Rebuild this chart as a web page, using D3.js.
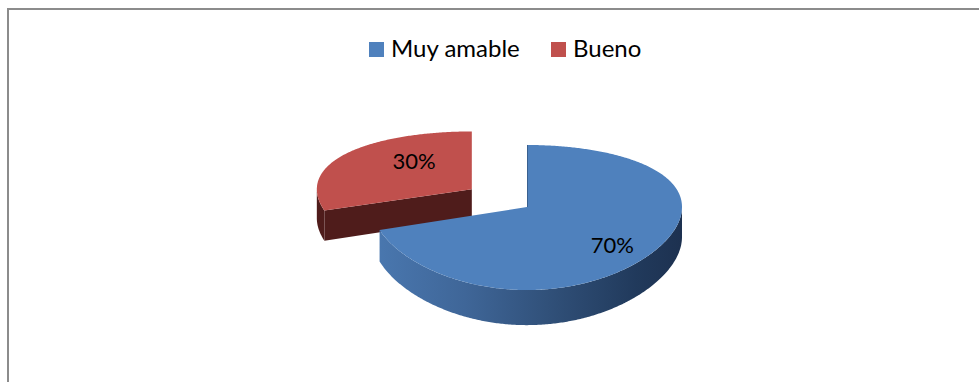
<!DOCTYPE html>
<html>
<head>
<meta charset="utf-8">
<script src="https://cdn.jsdelivr.net/npm/d3@7/dist/d3.min.js"></script>
<style>
  html, body { margin: 0; padding: 0; background: #fff; }
  svg { display: block; }
</style>
</head>
<body>
<svg id="chart" width="979" height="382"></svg>
<script>
// Survey answers and their shares
const categories = ["Muy amable", "Bueno"];
const values = [70, 30];
const topColors = ["#4F81BD", "#C0504D"];
const sideColors = ["#34567f", "#4F1C1B"];

const svg = d3.select("#chart");

// Chart frame
svg.append("rect")
  .attr("x", 8).attr("y", 9)
  .attr("width", 1000).attr("height", 400)
  .attr("fill", "none").attr("stroke", "#8c8c8c").attr("stroke-width", 2);

// 3D pie projection: disc radius R, foreshortened depth A, perspective B, wall height T
const cx = 527, cy = 207, R = 155, A = 71, B = 0.145, T = 30;
const explodeFrac = [0, 0.44];

function project(X, Z, h) {
  const s = 1 / (1 + B * Z);
  return [cx + R * X, cy - A * Z * s + T * s * h];
}

const pie = d3.pie().sort(null).startAngle(0).endAngle(2 * Math.PI);
const arcs = pie(values);
const total = d3.sum(values);
const pct = d3.format(".0%");

function offset(i) {
  const a = arcs[i];
  const mid = (a.startAngle + a.endAngle) / 2;
  const e = explodeFrac[i];
  return [e * Math.sin(mid), e * Math.cos(mid)];
}

function ringPoints(i, a0, a1, rho, h) {
  const [ex, ez] = offset(i);
  const n = Math.max(2, Math.ceil((a1 - a0) / 0.01));
  return d3.range(n + 1).map(k => {
    const t = a0 + (a1 - a0) * k / n;
    return project(ex + rho * Math.sin(t), ez + rho * Math.cos(t), h);
  });
}

const line = d3.line();

// Gradient on the front wall of the large slice
const defs = svg.append("defs");
const grad = defs.append("linearGradient")
  .attr("id", "wallBlue").attr("gradientUnits", "userSpaceOnUse")
  .attr("x1", cx - R).attr("x2", cx + R).attr("y1", 0).attr("y2", 0);
[[0, "#4a78b0"], [0.3, "#3f6698"], [0.6, "#2f4e76"], [0.85, "#213a5c"], [1, "#1d3150"]]
  .forEach(([o, c]) => grad.append("stop").attr("offset", o).attr("stop-color", c));

const wallFill = ["url(#wallBlue)", sideColors[1]];

function drawSlice(i) {
  const a = arcs[i];
  const g = svg.append("g").attr("class", "slice slice-" + i);
  const [ex, ez] = offset(i);
  const a0 = a.startAngle, a1 = a.endAngle;

  // radial walls that face the viewer
  const faces = [];
  if (Math.cos(a0 - Math.PI / 2) < -0.05) faces.push(a0);
  if (Math.cos(a1 + Math.PI / 2) < -0.05) faces.push(a1);
  faces.forEach(t => {
    const c0 = project(ex, ez, 0), c1 = project(ex, ez, 1);
    const o0 = project(ex + Math.sin(t), ez + Math.cos(t), 0);
    const o1 = project(ex + Math.sin(t), ez + Math.cos(t), 1);
    g.append("path").attr("d", line([c0, o0, o1, c1]) + "Z")
      .attr("fill", sideColors[i]);
  });

  // outer curved wall, front half only
  const f0 = Math.max(a0, Math.PI / 2), f1 = Math.min(a1, 3 * Math.PI / 2);
  if (f1 > f0) {
    const topPts = ringPoints(i, f0, f1, 1, 0);
    const botPts = ringPoints(i, f0, f1, 1, 1).reverse();
    g.append("path").attr("d", line(topPts.concat(botPts)) + "Z")
      .attr("fill", wallFill[i]);
  }

  // top face
  const pts = [project(ex, ez, 0)].concat(ringPoints(i, a0, a1, 1, 0));
  g.append("path").attr("d", line(pts) + "Z").attr("fill", topColors[i]);
}

// back slice first, then the front one
drawSlice(1);
drawSlice(0);

// thin shaded seam along the vertical edge of the large slice
(function () {
  const p0 = project(0, 0, 0), p1 = project(0, 1, 0);
  svg.append("line").attr("x1", p0[0] + 0.5).attr("y1", p0[1])
    .attr("x2", p1[0] + 0.5).attr("y2", p1[1])
    .attr("stroke", "#2c4b72").attr("stroke-width", 1).attr("opacity", 0.6);
})();

// percentage labels
const labelRho = [0.68, 0.46];
const labelDy = [7, -12];
arcs.forEach((a, i) => {
  const mid = (a.startAngle + a.endAngle) / 2;
  const [ex, ez] = offset(i);
  const p = project(ex + labelRho[i] * Math.sin(mid), ez + labelRho[i] * Math.cos(mid), 0);
  svg.append("text")
    .attr("x", p[0]).attr("y", p[1] + labelDy[i])
    .attr("text-anchor", "middle").attr("dominant-baseline", "central")
    .attr("font-family", "Lato, 'Open Sans', sans-serif").attr("font-size", 22)
    .attr("fill", "#000")
    .text(pct(a.value / total));
});

// legend
const legend = svg.append("g").attr("class", "legend");
const legendX = [369, 551];
categories.forEach((c, i) => {
  legend.append("rect").attr("x", legendX[i]).attr("y", 42)
    .attr("width", 15).attr("height", 15).attr("fill", topColors[i]);
  legend.append("text").attr("x", legendX[i] + 22).attr("y", 57)
    .attr("font-family", "Lato, 'Open Sans', sans-serif").attr("font-size", 24)
    .attr("fill", "#000").text(c);
});
</script>
</body>
</html>
